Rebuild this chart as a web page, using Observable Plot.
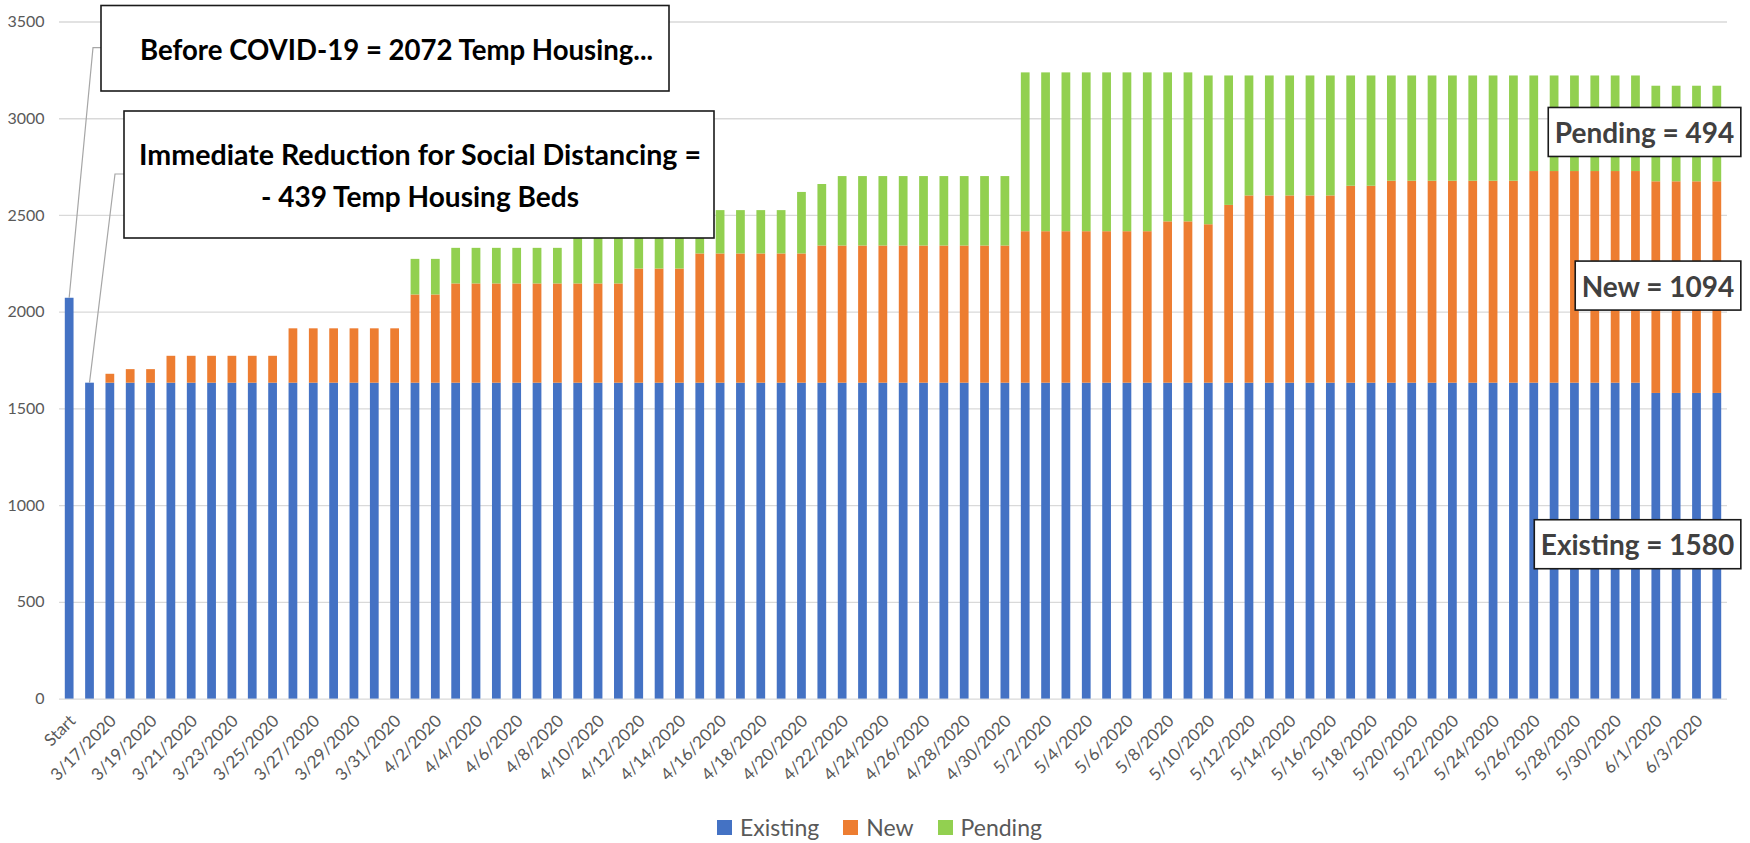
<!DOCTYPE html>
<html>
<head>
<meta charset="utf-8">
<script src="https://cdn.jsdelivr.net/npm/d3@7"></script>
<script src="https://cdn.jsdelivr.net/npm/@observablehq/plot@0.6"></script>
<style>
  html, body { margin: 0; padding: 0; background: #ffffff; }
  body { width: 1750px; height: 843px; overflow: hidden; position: relative; font-family: Lato, "Open Sans", sans-serif; }
  #chart { position: absolute; left: 0; top: 0; }
  #legend { position: absolute; left: 0; top: 807px; width: 1750px; height: 40px; box-sizing: border-box; padding-left: 9px;
            display: flex; justify-content: center; align-items: center; font-family: Lato, sans-serif; font-size: 23px; color: #595959; }
  .li { display: flex; align-items: center; margin: 0 12px; }
  .sw { width: 15px; height: 15px; margin-right: 8px; }
</style>
</head>
<body>
<div id="chart"></div>
<div id="legend"></div>
<script>
// ---------- DATA ----------
const categories = [
  "Start", "3/16/2020", "3/17/2020", "3/18/2020", "3/19/2020", "3/20/2020", "3/21/2020", "3/22/2020", "3/23/2020", "3/24/2020",
  "3/25/2020", "3/26/2020", "3/27/2020", "3/28/2020", "3/29/2020", "3/30/2020", "3/31/2020", "4/1/2020", "4/2/2020", "4/3/2020",
  "4/4/2020", "4/5/2020", "4/6/2020", "4/7/2020", "4/8/2020", "4/9/2020", "4/10/2020", "4/11/2020", "4/12/2020", "4/13/2020",
  "4/14/2020", "4/15/2020", "4/16/2020", "4/17/2020", "4/18/2020", "4/19/2020", "4/20/2020", "4/21/2020", "4/22/2020", "4/23/2020",
  "4/24/2020", "4/25/2020", "4/26/2020", "4/27/2020", "4/28/2020", "4/29/2020", "4/30/2020", "5/1/2020", "5/2/2020", "5/3/2020",
  "5/4/2020", "5/5/2020", "5/6/2020", "5/7/2020", "5/8/2020", "5/9/2020", "5/10/2020", "5/11/2020", "5/12/2020", "5/13/2020",
  "5/14/2020", "5/15/2020", "5/16/2020", "5/17/2020", "5/18/2020", "5/19/2020", "5/20/2020", "5/21/2020", "5/22/2020", "5/23/2020",
  "5/24/2020", "5/25/2020", "5/26/2020", "5/27/2020", "5/28/2020", "5/29/2020", "5/30/2020", "5/31/2020", "6/1/2020", "6/2/2020",
  "6/3/2020", "6/4/2020"
];

const xTickLabels = [
  "Start", "3/17/2020", "3/19/2020", "3/21/2020", "3/23/2020", "3/25/2020", "3/27/2020", "3/29/2020", "3/31/2020",
  "4/2/2020", "4/4/2020", "4/6/2020", "4/8/2020", "4/10/2020", "4/12/2020", "4/14/2020", "4/16/2020", "4/18/2020",
  "4/20/2020", "4/22/2020", "4/24/2020", "4/26/2020", "4/28/2020", "4/30/2020", "5/2/2020", "5/4/2020", "5/6/2020",
  "5/8/2020", "5/10/2020", "5/12/2020", "5/14/2020", "5/16/2020", "5/18/2020", "5/20/2020", "5/22/2020", "5/24/2020",
  "5/26/2020", "5/28/2020", "5/30/2020", "6/1/2020", "6/3/2020"
];

const yTicks = [0, 500, 1000, 1500, 2000, 2500, 3000, 3500];

const seriesNames = ["Existing", "New", "Pending"];
const seriesColors = ["#4472C4", "#ED7D31", "#92D050"];

const existing = [
  2072, 1633, 1633, 1633, 1633, 1633, 1633, 1633, 1633, 1633,
  1633, 1633, 1633, 1633, 1633, 1633, 1633, 1633, 1633, 1633,
  1633, 1633, 1633, 1633, 1633, 1633, 1633, 1633, 1633, 1633,
  1633, 1633, 1633, 1633, 1633, 1633, 1633, 1633, 1633, 1633,
  1633, 1633, 1633, 1633, 1633, 1633, 1633, 1633, 1633, 1633,
  1633, 1633, 1633, 1633, 1633, 1633, 1633, 1633, 1633, 1633,
  1633, 1633, 1633, 1633, 1633, 1633, 1633, 1633, 1633, 1633,
  1633, 1633, 1633, 1633, 1633, 1633, 1633, 1633, 1580, 1580,
  1580, 1580
];

const newBeds = [
  0, 0, 46, 70, 70, 139, 139, 139, 139, 139,
  139, 281, 281, 281, 281, 281, 281, 456, 456, 513,
  513, 513, 513, 513, 513, 513, 513, 513, 590, 590,
  590, 668, 668, 668, 668, 668, 668, 709, 709, 709,
  709, 709, 709, 709, 709, 709, 709, 783, 783, 783,
  783, 783, 783, 783, 834, 834, 819, 919, 968, 968,
  968, 968, 968, 1018, 1018, 1044, 1044, 1044, 1044, 1044,
  1044, 1044, 1094, 1094, 1094, 1094, 1094, 1094, 1094, 1094,
  1094, 1094
];

const pending = [
  0, 0, 0, 0, 0, 0, 0, 0, 0, 0,
  0, 0, 0, 0, 0, 0, 0, 184, 184, 184,
  184, 184, 184, 184, 184, 244, 244, 244, 216, 216,
  216, 224, 224, 224, 224, 224, 318, 318, 359, 359,
  359, 359, 359, 359, 359, 359, 359, 821, 821, 821,
  821, 821, 821, 821, 770, 770, 769, 669, 620, 620,
  620, 620, 620, 570, 570, 544, 544, 544, 544, 544,
  544, 544, 494, 494, 494, 494, 494, 494, 494, 494,
  494, 494
];

const annotationBefore = "Before COVID-19 = 2072 Temp Housing...";
const annotationReduction = ["Immediate Reduction for Social Distancing =", "- 439 Temp Housing Beds"];

// ---------- BUILD ----------
const seriesValues = [existing, newBeds, pending];
const rows = [];
categories.forEach((c, i) => {
  seriesNames.forEach((s, k) => rows.push({date: c, series: s, value: seriesValues[k][i]}));
});

const last = categories.length - 1;
const endLabels = [
  {date: categories[last], y: existing[last] / 2, text: `Existing = ${existing[last]}`},
  {date: categories[last], y: existing[last] + newBeds[last] / 2, text: `New = ${newBeds[last]}`},
  {date: categories[last], y: existing[last] + newBeds[last] + pending[last] / 2, text: `Pending = ${pending[last]}`}
];

const plot = Plot.plot({
  width: 1750,
  height: 800,
  marginTop: 21.5,
  marginBottom: 101.4,
  marginLeft: 59,
  marginRight: 23,
  x: {domain: categories, paddingInner: 0.57, paddingOuter: 0.285, round: false, label: null},
  y: {domain: [0, 3500], label: null},
  color: {domain: seriesNames, range: seriesColors},
  style: {fontFamily: "Lato, sans-serif", fontSize: "16px", color: "#595959", background: "#ffffff", overflow: "visible"},
  marks: [
    Plot.gridY(yTicks, {stroke: "#d9d9d9", strokeOpacity: 1, strokeWidth: 1.3}),
    Plot.axisY({ticks: yTicks, tickFormat: d => String(d), tickSize: 0, tickPadding: 15, label: null, fontSize: 16, fill: "#595959"}),
    Plot.axisX({ticks: xTickLabels, tickRotate: -45, tickSize: 0, tickPadding: 19, dx: 3, label: null, fontSize: 17, fill: "#595959"}),
    Plot.barY(rows, {x: "date", y: "value", fill: "series"}),
    Plot.text(endLabels, {x: "date", y: "y", text: "text", textAnchor: "end", dx: 17, fontSize: 28, fontWeight: "bold", fill: "#404040", className: "endlabel"})
  ]
});

document.getElementById("chart").appendChild(plot);

// boxes behind the end labels
d3.select(plot).selectAll("g.endlabel text").each(function() {
  const bb = this.getBBox();
  const cy = bb.y + bb.height / 2;
  d3.select(this.parentNode).insert("rect", () => this)
    .attr("transform", this.getAttribute("transform"))
    .attr("x", bb.x - 6.5).attr("width", bb.width + 13)
    .attr("y", cy - 24.5).attr("height", 49)
    .attr("fill", "#ffffff").attr("stroke", "#1a1a1a").attr("stroke-width", 1.6);
});

// callout annotations
const xs = plot.scale("x"), ys = plot.scale("y");
const bw = xs.bandwidth;
const topOf = i => [xs.apply(categories[i]) + bw / 2, ys.apply(existing[i] + newBeds[i] + pending[i])];
const svg = d3.select(plot);
const g = svg.append("g").attr("class", "callouts");

const p0 = topOf(0), p1 = topOf(1);
g.append("polyline").attr("points", `101,47.7 93,47.7 ${p0[0]},${p0[1]}`)
  .attr("fill", "none").attr("stroke", "#a6a6a6").attr("stroke-width", 1.2);
g.append("polyline").attr("points", `124,174 115,174 ${p1[0]},${p1[1]}`)
  .attr("fill", "none").attr("stroke", "#a6a6a6").attr("stroke-width", 1.2);

g.append("rect").attr("x", 101).attr("y", 5.5).attr("width", 568).attr("height", 85.5)
  .attr("fill", "#fff").attr("stroke", "#1a1a1a").attr("stroke-width", 1.6);
g.append("text").attr("x", 396.5).attr("y", 60).attr("text-anchor", "middle")
  .attr("font-family", "Lato, sans-serif").attr("font-weight", "bold").attr("font-size", 29).attr("fill", "#000")
  .attr("textLength", 513).attr("lengthAdjust", "spacingAndGlyphs").text(annotationBefore);

g.append("rect").attr("x", 124).attr("y", 111).attr("width", 590).attr("height", 127)
  .attr("fill", "#fff").attr("stroke", "#1a1a1a").attr("stroke-width", 1.6);
g.append("text").attr("x", 420).attr("y", 165).attr("text-anchor", "middle")
  .attr("font-family", "Lato, sans-serif").attr("font-weight", "bold").attr("font-size", 29).attr("fill", "#000")
  .attr("textLength", 562).attr("lengthAdjust", "spacingAndGlyphs").text(annotationReduction[0]);
g.append("text").attr("x", 420).attr("y", 207.3).attr("text-anchor", "middle")
  .attr("font-family", "Lato, sans-serif").attr("font-weight", "bold").attr("font-size", 29).attr("fill", "#000")
  .attr("textLength", 318).attr("lengthAdjust", "spacingAndGlyphs").text(annotationReduction[1]);

// legend
const legend = d3.select("#legend");
seriesNames.forEach((s, k) => {
  const item = legend.append("div").attr("class", "li");
  item.append("div").attr("class", "sw").style("background", seriesColors[k]);
  item.append("span").text(s);
});
</script>
</body>
</html>
